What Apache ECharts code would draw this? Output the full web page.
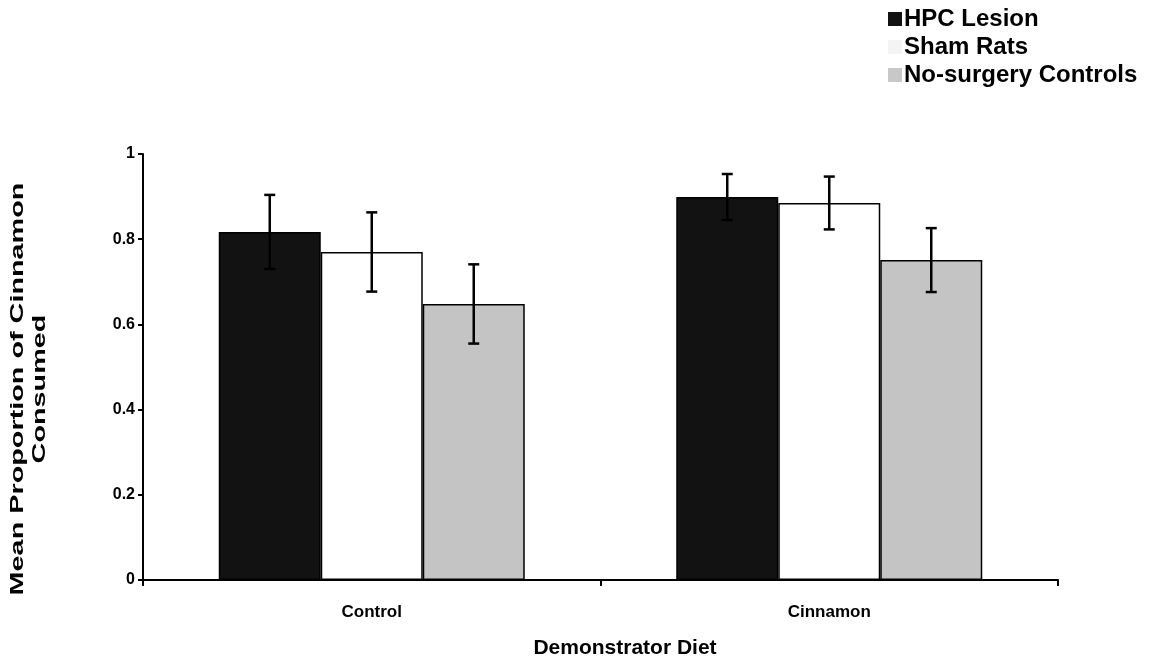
<!DOCTYPE html>
<html>
<head>
<meta charset="utf-8">
<script src="https://cdn.jsdelivr.net/npm/echarts@6/dist/echarts.min.js"></script>
<style>
html,body{margin:0;padding:0;background:#fff;}
#chart{width:1168px;height:664px;}
</style>
</head>
<body>
<div id="chart"></div>
<script>
const categories = ['Control', 'Cinnamon'];
const seriesNames = ['HPC Lesion', 'Sham Rats', 'No-surgery Controls'];
const hpcLesion = [0.817, 0.899];
const hpcLesionErr = [0.087, 0.054];
const shamRats = [0.770, 0.885];
const shamRatsErr = [0.093, 0.062];
const noSurgery = [0.648, 0.751];
const noSurgeryErr = [0.093, 0.075];
const yTicks = [0, 0.2, 0.4, 0.6, 0.8, 1];
const yTitle = 'Mean Proportion of Cinnamon\nConsumed';
const xTitle = 'Demonstrator Diet';

const FONT = '"Liberation Sans", Arial, Helvetica, sans-serif';
const BAR_W = 102;
const chart = echarts.init(document.getElementById('chart'));

const valueSets = [hpcLesion, shamRats, noSurgery];
const errSets = [hpcLesionErr, shamRatsErr, noSurgeryErr];
const colors = ['#121212', '#ffffff', '#c4c4c4'];

const barSeries = seriesNames.map((name, i) => ({
  name: name,
  type: 'bar',
  data: valueSets[i],
  barWidth: BAR_W,
  barGap: '0%',
  itemStyle: { color: colors[i], borderColor: '#000', borderWidth: 1.5 },
  z: 2
}));

const errData = [];
for (let s = 0; s < 3; s++) {
  for (let c = 0; c < categories.length; c++) {
    errData.push([c, valueSets[s][c], errSets[s][c], s]);
  }
}

const errSeries = {
  type: 'custom',
  name: 'err',
  data: errData,
  z: 5,
  silent: true,
  encode: { x: 0, y: 1 },
  renderItem: function (params, api) {
    const c = api.value(0), v = api.value(1), e = api.value(2), s = api.value(3);
    const top = api.coord([c, v + e]);
    const bot = api.coord([c, v - e]);
    const x = top[0] + (s - 1) * BAR_W;
    const cap = 5.5;
    const st = { stroke: '#000', lineWidth: 2.5 };
    return {
      type: 'group',
      children: [
        { type: 'line', shape: { x1: x, y1: top[1], x2: x, y2: bot[1] }, style: st },
        { type: 'line', shape: { x1: x - cap, y1: top[1], x2: x + cap, y2: top[1] }, style: st },
        { type: 'line', shape: { x1: x - cap, y1: bot[1], x2: x + cap, y2: bot[1] }, style: st }
      ]
    };
  }
};

const option = {
  animation: false,
  backgroundColor: '#fff',
  grid: { left: 143, right: 110, top: 154, bottom: 84, containLabel: false },
  legend: {
    data: [
      { name: 'HPC Lesion', itemStyle: { borderWidth: 0 } },
      { name: 'Sham Rats', itemStyle: { borderWidth: 0, color: '#f4f4f4' } },
      { name: 'No-surgery Controls', itemStyle: { borderWidth: 0, color: '#c8c8c8' } }
    ],
    orient: 'vertical',
    left: 883,
    top: 2,
    itemWidth: 14,
    itemHeight: 14,
    itemGap: 4,
    icon: 'rect',
    textStyle: { fontFamily: FONT, fontWeight: 'bold', fontSize: 24, color: '#000', padding: [0, 0, 0, -3] }
  },
  xAxis: {
    type: 'category',
    data: categories,
    axisLine: { lineStyle: { color: '#000', width: 2 } },
    axisTick: { show: true, length: 6, lineStyle: { color: '#000', width: 2 }, alignWithLabel: false },
    axisLabel: { fontFamily: FONT, fontWeight: 'bold', fontSize: 17, color: '#000', margin: 24 }
  },
  yAxis: {
    type: 'value',
    min: 0,
    max: 1,
    interval: 0.2,
    axisLine: { show: true, lineStyle: { color: '#000', width: 2 } },
    axisTick: { show: true, length: 5, lineStyle: { color: '#000', width: 2 } },
    splitLine: { show: false },
    axisLabel: {
      fontFamily: FONT, fontWeight: 'bold', fontSize: 16, color: '#000', margin: 8,
      formatter: function (v) {
        const t = yTicks.find(k => Math.abs(k - v) < 1e-9);
        return t === undefined ? '' : String(t);
      }
    }
  },
  graphic: [{
    type: 'text',
    x: 29,
    y: 389,
    rotation: Math.PI / 2,
    scaleX: 1.6,
    style: {
      text: yTitle,
      fontFamily: FONT,
      fontWeight: 'bold',
      fontSize: 18,
      lineHeight: 22,
      fill: '#000',
      textAlign: 'center',
      textVerticalAlign: 'middle'
    }
  }, {
    type: 'text',
    x: 625,
    y: 648,
    style: {
      text: xTitle,
      fontFamily: FONT,
      fontWeight: 'bold',
      fontSize: 21,
      fill: '#000',
      textAlign: 'center',
      textVerticalAlign: 'middle'
    }
  }],
  series: barSeries.concat([errSeries])
};

chart.setOption(option);
</script>
</body>
</html>
